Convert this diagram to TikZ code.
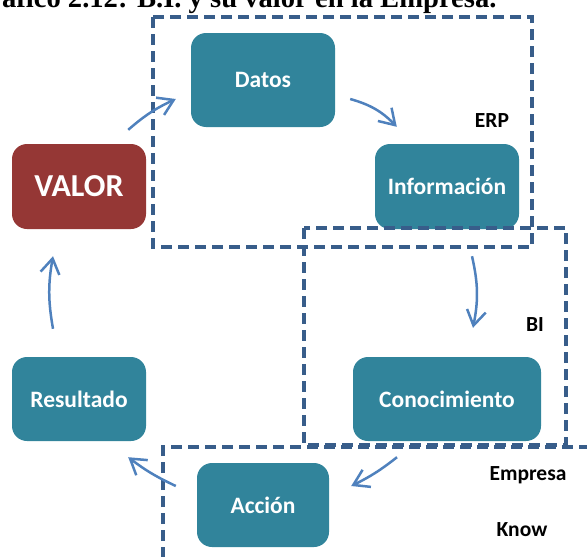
\documentclass[tikz,border=0pt]{standalone}
\usepackage{fontspec}
\setmainfont{Carlito}
\newfontfamily\captionfont{Liberation Serif}
\usetikzlibrary{arrows.meta}
\definecolor{tealbox}{RGB}{49,132,155}
\definecolor{redbox}{RGB}{149,55,53}
\definecolor{dashblue}{RGB}{56,93,138}
\definecolor{arrowblue}{RGB}{79,129,189}
\tikzset{
  stage/.style={fill=tealbox, rounded corners=15pt, text=white, inner sep=0pt,
    minimum height=84pt, font=\fontsize{23.5}{27}\selectfont\bfseries},
  zone/.style={draw=dashblue, line width=4.8pt, dash pattern=on 11pt off 6pt},
  flow/.style={draw=arrowblue, line width=2.5pt, -{Straight Barb[length=15pt,width=19pt]}},
  tag/.style={font=\fontsize{21.5}{25}\selectfont\bfseries}
}
\def\dzone{\draw[zone]}

\begin{document}
\begin{tikzpicture}[x=1pt,y=-1pt]
    \useasboundingbox (0,0) rectangle (587,557);
    \node[anchor=base east, font=\captionfont\fontsize{28.6}{32}\selectfont\bfseries] (titulo) at (500,7)
        {Gráfico 2.12: B.I. y su valor en la Empresa.};
    % etapas del ciclo
    \node[stage, fill=redbox, minimum width=134pt, minimum height=85pt,
          font=\fontsize{32}{36}\selectfont\bfseries] (valor) at (79,186.5) {VALOR};
    \node[stage, minimum width=144pt, minimum height=94pt] (datos)  at (263,80)    {Datos};
    \node[stage, minimum width=144pt, minimum height=85pt] (info)   at (447,186.5) {Información};
    \node[stage, minimum width=188pt]                      (conoc)  at (447,399)   {Conocimiento};
    \node[stage, minimum width=132pt]                      (accion) at (263,505)   {Acción};
    \node[stage, minimum width=134pt]                      (result) at (79,399)    {Resultado};
    % zonas
    \dzone (153,17) rectangle (532,247);
    \dzone (304,228) rectangle (566,445);
    \dzone (163,575) |- (600,447);
    \node[tag] (erp)     at (492,121) {ERP};
    \node[tag] (bi)      at (535,325) {BI};
    \node[tag] (empresa) at (528,475) {Empresa};
    \node[tag] (know)    at (522,530) {Know};
    % flechas
    \draw[flow] ([shift={(-18,-14)}]valor.north east) to[bend left=8]  ([shift={(-15,19)}]datos.west);
    \draw[flow] ([shift={(15,19)}]datos.east)         to[bend left=15] ([shift={(22,-17)}]info.north west);
    \draw[flow] ([shift={(25,27)}]info.south)         to[bend left=12] ([shift={(26,-29)}]conoc.north);
    \draw[flow] ([shift={(-50,16)}]conoc.south)       to[bend left=6]  ([shift={(22,-19)}]accion.east);
    \draw[flow] ([shift={(-21,-19)}]accion.west)      to[bend left=6]  ([shift={(-18,16)}]result.south east);
    \draw[flow] ([shift={(-26,-28)}]result.north)     to[bend left=10] ([shift={(-26,27)}]valor.south);
\end{tikzpicture}
\end{document}
